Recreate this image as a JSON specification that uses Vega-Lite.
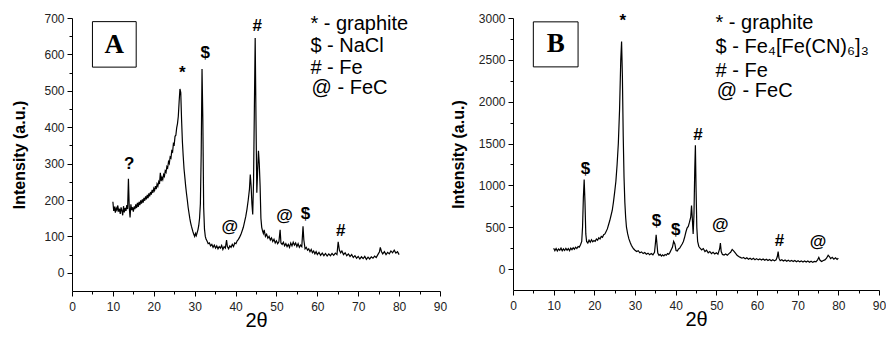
{
  "$schema": "https://vega.github.io/schema/vega-lite/v6.json",
  "padding": {"left": 11, "top": 12, "right": 0, "bottom": 0},
  "bounds": "flush",
  "spacing": 73,
  "background": "white",
  "config": {
    "view": {"stroke": null},
    "axis": {"grid": false, "domainColor": "#000", "tickColor": "#000", "labelColor": "#222", "labelFont": "Liberation Sans", "labelFontSize": 12, "titleFont": "Liberation Sans", "titleColor": "#000", "labelFlush": false, "labelOverlap": false, "labelPadding": 3, "tickSize": 5},
    "text": {"font": "Liberation Sans"}
  },
  "datasets": {
    "a": [
      {"x":10.0,"y":195},{"x":10.2,"y":170},{"x":10.4,"y":182},{"x":10.6,"y":165},{"x":10.8,"y":178},{"x":11.0,"y":172},{"x":11.2,"y":185},{"x":11.4,"y":168},{"x":11.6,"y":176},{"x":11.8,"y":162},
      {"x":12.0,"y":180},{"x":12.2,"y":171},{"x":12.4,"y":158},{"x":12.6,"y":183},{"x":12.8,"y":166},{"x":13.0,"y":178},{"x":13.2,"y":170},{"x":13.4,"y":186},{"x":13.6,"y":175},{"x":13.8,"y":258},
      {"x":14.0,"y":180},{"x":14.2,"y":152},{"x":14.4,"y":188},{"x":14.6,"y":172},{"x":14.8,"y":180},{"x":15.0,"y":168},{"x":15.2,"y":182},{"x":15.4,"y":175},{"x":15.6,"y":188},{"x":15.8,"y":178},
      {"x":16.0,"y":192},{"x":16.2,"y":181},{"x":16.4,"y":195},{"x":16.6,"y":186},{"x":16.8,"y":199},{"x":17.0,"y":190},{"x":17.2,"y":202},{"x":17.4,"y":193},{"x":17.6,"y":206},{"x":17.8,"y":198},
      {"x":18.0,"y":210},{"x":18.2,"y":202},{"x":18.4,"y":214},{"x":18.6,"y":205},{"x":18.8,"y":218},{"x":19.0,"y":210},{"x":19.2,"y":222},{"x":19.4,"y":215},{"x":19.6,"y":228},{"x":19.8,"y":220},
      {"x":20.0,"y":232},{"x":20.2,"y":226},{"x":20.4,"y":238},{"x":20.6,"y":230},{"x":20.8,"y":244},{"x":21.0,"y":238},{"x":21.2,"y":250},{"x":21.4,"y":244},{"x":21.6,"y":275},{"x":21.8,"y":252},
      {"x":22.0,"y":262},{"x":22.2,"y":256},{"x":22.4,"y":270},{"x":22.6,"y":265},{"x":22.8,"y":280},{"x":23.0,"y":276},{"x":23.2,"y":292},{"x":23.4,"y":288},{"x":23.6,"y":305},{"x":23.8,"y":300},
      {"x":24.0,"y":318},{"x":24.2,"y":315},{"x":24.4,"y":335},{"x":24.6,"y":332},{"x":24.8,"y":355},{"x":25.0,"y":352},{"x":25.2,"y":375},{"x":25.4,"y":378},{"x":25.6,"y":398},{"x":25.8,"y":410},
      {"x":26.0,"y":430},{"x":26.2,"y":470},{"x":26.4,"y":505},{"x":26.6,"y":495},{"x":26.8,"y":420},{"x":27.0,"y":360},{"x":27.2,"y":320},{"x":27.4,"y":285},{"x":27.6,"y":262},{"x":27.8,"y":238},
      {"x":28.0,"y":218},{"x":28.2,"y":200},{"x":28.4,"y":180},{"x":28.6,"y":165},{"x":28.8,"y":150},{"x":29.0,"y":138},{"x":29.2,"y":128},{"x":29.4,"y":120},{"x":29.6,"y":112},{"x":29.8,"y":105},
      {"x":30.0,"y":100},{"x":30.2,"y":108},{"x":30.4,"y":102},{"x":30.6,"y":110},{"x":30.8,"y":118},{"x":31.0,"y":130},{"x":31.2,"y":150},{"x":31.4,"y":190},{"x":31.6,"y":330},{"x":31.8,"y":560},
      {"x":32.0,"y":420},{"x":32.2,"y":180},{"x":32.4,"y":120},{"x":32.6,"y":100},{"x":32.8,"y":92},{"x":33.0,"y":88},{"x":33.3,"y":80},{"x":33.6,"y":82},{"x":33.9,"y":74},{"x":34.2,"y":78},
      {"x":34.5,"y":70},{"x":34.8,"y":76},{"x":35.1,"y":68},{"x":35.4,"y":74},{"x":35.7,"y":66},{"x":36.0,"y":72},{"x":36.3,"y":68},{"x":36.6,"y":75},{"x":36.9,"y":64},{"x":37.2,"y":72},
      {"x":37.5,"y":68},{"x":37.8,"y":90},{"x":38.0,"y":72},{"x":38.3,"y":66},{"x":38.6,"y":74},{"x":38.9,"y":70},{"x":39.2,"y":78},{"x":39.5,"y":72},{"x":39.8,"y":82},{"x":40.1,"y":80},
      {"x":40.4,"y":88},{"x":40.7,"y":92},{"x":41.0,"y":98},{"x":41.3,"y":105},{"x":41.6,"y":115},{"x":41.9,"y":125},{"x":42.2,"y":140},{"x":42.5,"y":155},{"x":42.8,"y":175},{"x":43.1,"y":200},
      {"x":43.4,"y":230},{"x":43.6,"y":270},{"x":43.8,"y":240},{"x":44.0,"y":190},{"x":44.2,"y":160},{"x":44.4,"y":250},{"x":44.6,"y":450},{"x":44.8,"y":645},{"x":45.0,"y":420},{"x":45.2,"y":220},
      {"x":45.4,"y":280},{"x":45.6,"y":335},{"x":45.8,"y":300},{"x":46.0,"y":240},{"x":46.2,"y":150},{"x":46.4,"y":125},{"x":46.6,"y":115},{"x":46.8,"y":108},{"x":47.0,"y":118},{"x":47.3,"y":100},
      {"x":47.6,"y":106},{"x":47.9,"y":95},{"x":48.2,"y":100},{"x":48.5,"y":90},{"x":48.8,"y":96},{"x":49.1,"y":86},{"x":49.4,"y":92},{"x":49.7,"y":82},{"x":50.0,"y":88},{"x":50.3,"y":80},
      {"x":50.6,"y":85},{"x":50.9,"y":118},{"x":51.1,"y":82},{"x":51.4,"y":78},{"x":51.7,"y":84},{"x":52.0,"y":74},{"x":52.3,"y":80},{"x":52.6,"y":72},{"x":52.9,"y":78},{"x":53.2,"y":70},
      {"x":53.5,"y":82},{"x":53.8,"y":74},{"x":54.1,"y":84},{"x":54.4,"y":76},{"x":54.7,"y":82},{"x":55.0,"y":72},{"x":55.3,"y":80},{"x":55.6,"y":70},{"x":55.9,"y":76},{"x":56.2,"y":72},
      {"x":56.5,"y":128},{"x":56.7,"y":90},{"x":57.0,"y":66},{"x":57.3,"y":70},{"x":57.6,"y":62},{"x":57.9,"y":66},{"x":58.2,"y":58},{"x":58.5,"y":64},{"x":58.8,"y":55},{"x":59.1,"y":60},
      {"x":59.4,"y":52},{"x":59.7,"y":58},{"x":60.0,"y":50},{"x":60.4,"y":56},{"x":60.8,"y":48},{"x":61.2,"y":54},{"x":61.6,"y":47},{"x":62.0,"y":53},{"x":62.4,"y":46},{"x":62.8,"y":52},
      {"x":63.2,"y":47},{"x":63.6,"y":53},{"x":64.0,"y":48},{"x":64.4,"y":54},{"x":64.8,"y":50},{"x":65.1,"y":85},{"x":65.4,"y":62},{"x":65.7,"y":55},{"x":66.0,"y":60},{"x":66.4,"y":50},
      {"x":66.8,"y":55},{"x":67.2,"y":47},{"x":67.6,"y":52},{"x":68.0,"y":45},{"x":68.4,"y":50},{"x":68.8,"y":42},{"x":69.2,"y":47},{"x":69.6,"y":40},{"x":70.0,"y":45},{"x":70.4,"y":38},
      {"x":70.8,"y":44},{"x":71.2,"y":39},{"x":71.6,"y":45},{"x":72.0,"y":37},{"x":72.4,"y":43},{"x":72.8,"y":38},{"x":73.2,"y":44},{"x":73.6,"y":40},{"x":74.0,"y":46},{"x":74.4,"y":42},
      {"x":74.8,"y":50},{"x":75.2,"y":58},{"x":75.4,"y":70},{"x":75.7,"y":58},{"x":76.0,"y":52},{"x":76.4,"y":58},{"x":76.8,"y":50},{"x":77.2,"y":56},{"x":77.6,"y":52},{"x":78.0,"y":60},
      {"x":78.4,"y":55},{"x":78.8,"y":62},{"x":79.2,"y":54},{"x":79.6,"y":58},{"x":80.0,"y":50}
    ],
    "b": [
      {"x":10.0,"y":250},{"x":10.3,"y":220},{"x":10.6,"y":245},{"x":10.9,"y":215},{"x":11.2,"y":240},{"x":11.5,"y":225},{"x":11.8,"y":250},{"x":12.1,"y":218},{"x":12.4,"y":242},{"x":12.7,"y":222},
      {"x":13.0,"y":248},{"x":13.3,"y":226},{"x":13.6,"y":245},{"x":13.9,"y":220},{"x":14.2,"y":250},{"x":14.5,"y":232},{"x":14.8,"y":255},{"x":15.1,"y":238},{"x":15.4,"y":262},{"x":15.7,"y":245},
      {"x":16.0,"y":270},{"x":16.3,"y":262},{"x":16.6,"y":290},{"x":16.9,"y":330},{"x":17.1,"y":500},{"x":17.3,"y":850},{"x":17.5,"y":1070},{"x":17.7,"y":800},{"x":17.9,"y":420},{"x":18.1,"y":330},
      {"x":18.4,"y":310},{"x":18.7,"y":345},{"x":19.0,"y":320},{"x":19.3,"y":350},{"x":19.6,"y":325},{"x":19.9,"y":340},{"x":20.2,"y":330},{"x":20.5,"y":360},{"x":20.8,"y":345},{"x":21.1,"y":375},
      {"x":21.4,"y":360},{"x":21.7,"y":390},{"x":22.0,"y":380},{"x":22.3,"y":410},{"x":22.6,"y":420},{"x":22.9,"y":450},{"x":23.2,"y":480},{"x":23.5,"y":530},{"x":23.8,"y":580},{"x":24.1,"y":640},
      {"x":24.4,"y":700},{"x":24.7,"y":800},{"x":25.0,"y":920},{"x":25.3,"y":1050},{"x":25.6,"y":1250},{"x":25.9,"y":1500},{"x":26.2,"y":1900},{"x":26.5,"y":2500},{"x":26.7,"y":2720},{"x":26.9,"y":2300},
      {"x":27.1,"y":1600},{"x":27.3,"y":1100},{"x":27.5,"y":800},{"x":27.7,"y":620},{"x":27.9,"y":500},{"x":28.2,"y":420},{"x":28.5,"y":360},{"x":28.8,"y":320},{"x":29.1,"y":285},{"x":29.4,"y":260},
      {"x":29.7,"y":240},{"x":30.0,"y":225},{"x":30.4,"y":210},{"x":30.8,"y":220},{"x":31.2,"y":195},{"x":31.6,"y":205},{"x":32.0,"y":185},{"x":32.4,"y":198},{"x":32.8,"y":178},{"x":33.2,"y":190},
      {"x":33.6,"y":172},{"x":34.0,"y":185},{"x":34.4,"y":170},{"x":34.8,"y":200},{"x":35.0,"y":300},{"x":35.2,"y":410},{"x":35.4,"y":300},{"x":35.6,"y":190},{"x":35.9,"y":165},{"x":36.2,"y":175},
      {"x":36.5,"y":155},{"x":36.8,"y":170},{"x":37.1,"y":158},{"x":37.4,"y":175},{"x":37.7,"y":165},{"x":38.0,"y":185},{"x":38.3,"y":178},{"x":38.6,"y":200},{"x":38.9,"y":230},{"x":39.2,"y":260},
      {"x":39.5,"y":330},{"x":39.8,"y":300},{"x":40.1,"y":220},{"x":40.4,"y":215},{"x":40.7,"y":240},{"x":41.0,"y":250},{"x":41.3,"y":275},{"x":41.6,"y":300},{"x":41.9,"y":330},{"x":42.2,"y":380},
      {"x":42.5,"y":440},{"x":42.8,"y":490},{"x":43.1,"y":510},{"x":43.4,"y":560},{"x":43.7,"y":620},{"x":43.9,"y":760},{"x":44.1,"y":600},{"x":44.3,"y":420},{"x":44.5,"y":650},{"x":44.7,"y":1200},
      {"x":44.85,"y":1480},{"x":45.0,"y":1000},{"x":45.2,"y":500},{"x":45.4,"y":330},{"x":45.7,"y":270},{"x":46.0,"y":250},{"x":46.4,"y":230},{"x":46.8,"y":245},{"x":47.2,"y":210},{"x":47.6,"y":225},
      {"x":48.0,"y":195},{"x":48.4,"y":210},{"x":48.8,"y":185},{"x":49.2,"y":200},{"x":49.6,"y":180},{"x":50.0,"y":195},{"x":50.4,"y":178},{"x":50.8,"y":240},{"x":51.0,"y":310},{"x":51.2,"y":210},
      {"x":51.5,"y":175},{"x":51.9,"y":168},{"x":52.3,"y":180},{"x":52.7,"y":165},{"x":53.1,"y":185},{"x":53.5,"y":200},{"x":53.9,"y":235},{"x":54.3,"y":215},{"x":54.7,"y":190},{"x":55.1,"y":165},
      {"x":55.5,"y":150},{"x":55.9,"y":140},{"x":56.3,"y":130},{"x":56.7,"y":138},{"x":57.1,"y":122},{"x":57.5,"y":135},{"x":57.9,"y":118},{"x":58.3,"y":130},{"x":58.7,"y":115},{"x":59.1,"y":128},
      {"x":59.5,"y":112},{"x":59.9,"y":125},{"x":60.3,"y":110},{"x":60.7,"y":122},{"x":61.1,"y":108},{"x":61.5,"y":120},{"x":61.9,"y":105},{"x":62.3,"y":118},{"x":62.7,"y":102},{"x":63.1,"y":115},
      {"x":63.5,"y":100},{"x":63.9,"y":112},{"x":64.3,"y":98},{"x":64.7,"y":110},{"x":65.0,"y":150},{"x":65.2,"y":210},{"x":65.4,"y":130},{"x":65.7,"y":100},{"x":66.1,"y":112},{"x":66.5,"y":96},
      {"x":66.9,"y":108},{"x":67.3,"y":94},{"x":67.7,"y":106},{"x":68.1,"y":92},{"x":68.5,"y":104},{"x":68.9,"y":90},{"x":69.3,"y":102},{"x":69.7,"y":88},{"x":70.1,"y":100},{"x":70.5,"y":86},
      {"x":70.9,"y":98},{"x":71.3,"y":85},{"x":71.7,"y":97},{"x":72.1,"y":84},{"x":72.5,"y":96},{"x":72.9,"y":82},{"x":73.3,"y":94},{"x":73.7,"y":80},{"x":74.1,"y":92},{"x":74.5,"y":86},
      {"x":74.9,"y":110},{"x":75.2,"y":140},{"x":75.5,"y":105},{"x":75.9,"y":90},{"x":76.3,"y":102},{"x":76.7,"y":110},{"x":77.1,"y":130},{"x":77.5,"y":165},{"x":77.8,"y":150},{"x":78.1,"y":125},
      {"x":78.5,"y":140},{"x":78.9,"y":118},{"x":79.3,"y":135},{"x":79.7,"y":115},{"x":80.0,"y":130}
    ],
    "annA": [
      {"x":14,"y":300,"t":"?"},{"x":27,"y":550,"t":"*"},{"x":32.6,"y":605,"t":"$"},{"x":45.3,"y":678,"t":"#"},
      {"x":38.6,"y":127,"t":"@"},{"x":52,"y":157,"t":"@"},{"x":57.1,"y":162,"t":"$"},{"x":65.7,"y":116,"t":"#"}
    ],
    "annB": [
      {"x":17.8,"y":1200,"t":"$"},{"x":27,"y":2960,"t":"*"},{"x":45.5,"y":1606,"t":"#"},{"x":35.3,"y":570,"t":"$"},
      {"x":40,"y":462,"t":"$"},{"x":51,"y":530,"t":"@"},{"x":65.5,"y":335,"t":"#"},{"x":75,"y":323,"t":"@"}
    ],
    "legA": [
      {"x":58.3,"y":684,"t":"* - graphite"},{"x":58.3,"y":622,"t":"$ - NaCl"},{"x":58.3,"y":564,"t":"# - Fe"},{"x":58.6,"y":509,"t":"@ - FeC"}
    ],
    "legB": [
      {"x":49.8,"y":2935,"t":"* - graphite"},{"x":49.8,"y":2650,"t":"$ - Fe₄[Fe(CN)₆]₃"},{"x":49.8,"y":2370,"t":"# - Fe"},{"x":50.1,"y":2130,"t":"@ - FeC"}
    ],
    "boxA": [{"x1":5.0,"x2":15.7,"y1":565,"y2":690,"xc":10.35,"yc":627,"t":"A"}],
    "boxB": [{"x1":5.0,"x2":16.0,"y1":2416,"y2":2954,"xc":10.5,"yc":2685,"t":"B"}]
  },
  "hconcat": [
    {
      "width": 368,
      "height": 273,
      "resolve": {"axis": {"x": "independent", "y": "independent"}},
      "layer": [
        {
          "data": {"name": "a"},
          "mark": {"type": "line", "color": "#000", "strokeWidth": 1.2},
          "encoding": {
            "x": {"field": "x", "type": "quantitative", "scale": {"domain": [0, 90], "nice": false},
              "axis": {"values": [0,10,20,30,40,50,60,70,80,90], "labelPadding": 5, "title": "2θ", "titleFontSize": 20, "titleFontWeight": "normal", "titlePadding": -2}},
            "y": {"field": "y", "type": "quantitative", "scale": {"domain": [-50, 700], "nice": false, "zero": false},
              "axis": {"values": [0,100,200,300,400,500,600,700], "title": "Intensity (a.u.)", "titleFontSize": 16, "titleFontWeight": "bold", "titlePadding": 16}}
          }
        },
        {
          "data": {"name": "annA"},
          "mark": {"type": "text", "fontSize": 17, "fontWeight": "bold", "align": "center", "baseline": "middle", "color": "#000"},
          "encoding": {
            "x": {"field": "x", "type": "quantitative", "axis": {"orient": "bottom", "values": [5,15,25,35,45,55,65,75,85], "labels": false, "domain": false, "tickSize": 3, "title": null}},
            "y": {"field": "y", "type": "quantitative", "axis": {"orient": "left", "values": [50,150,250,350,450,550,650], "labels": false, "domain": false, "tickSize": 3, "title": null}},
            "text": {"field": "t"}
          }
        },
        {
          "data": {"name": "legA"},
          "mark": {"type": "text", "fontSize": 20, "align": "left", "baseline": "middle", "color": "#000"},
          "encoding": {"x": {"field": "x", "type": "quantitative", "axis": null}, "y": {"field": "y", "type": "quantitative", "axis": null}, "text": {"field": "t"}}
        },
        {
          "data": {"name": "boxA"},
          "mark": {"type": "rect", "fill": "white", "stroke": "#000", "strokeWidth": 1},
          "encoding": {"x": {"field": "x1", "type": "quantitative", "axis": null}, "x2": {"field": "x2"}, "y": {"field": "y1", "type": "quantitative", "axis": null}, "y2": {"field": "y2"}}
        },
        {
          "data": {"name": "boxA"},
          "mark": {"type": "text", "font": "Liberation Serif", "fontSize": 27, "fontWeight": "bold", "align": "center", "baseline": "middle", "color": "#000"},
          "encoding": {"x": {"field": "xc", "type": "quantitative", "axis": null}, "y": {"field": "yc", "type": "quantitative", "axis": null}, "text": {"field": "t"}}
        }
      ]
    },
    {
      "width": 366,
      "height": 272,
      "resolve": {"axis": {"x": "independent", "y": "independent"}},
      "layer": [
        {
          "data": {"name": "b"},
          "mark": {"type": "line", "color": "#000", "strokeWidth": 1.2},
          "encoding": {
            "x": {"field": "x", "type": "quantitative", "scale": {"domain": [0, 90], "nice": false},
              "axis": {"values": [0,10,20,30,40,50,60,70,80,90], "labelPadding": 5, "title": "2θ", "titleFontSize": 20, "titleFontWeight": "normal", "titlePadding": -2}},
            "y": {"field": "y", "type": "quantitative", "scale": {"domain": [-250, 3000], "nice": false, "zero": false},
              "axis": {"values": [0,500,1000,1500,2000,2500,3000], "format": "d", "title": "Intensity (a.u.)", "titleFontSize": 16, "titleFontWeight": "bold", "titlePadding": 12}}
          }
        },
        {
          "data": {"name": "annB"},
          "mark": {"type": "text", "fontSize": 17, "fontWeight": "bold", "align": "center", "baseline": "middle", "color": "#000"},
          "encoding": {
            "x": {"field": "x", "type": "quantitative", "axis": {"orient": "bottom", "values": [5,15,25,35,45,55,65,75,85], "labels": false, "domain": false, "tickSize": 3, "title": null}},
            "y": {"field": "y", "type": "quantitative", "axis": {"orient": "left", "values": [250,750,1250,1750,2250,2750], "labels": false, "domain": false, "tickSize": 3, "title": null}},
            "text": {"field": "t"}
          }
        },
        {
          "data": {"name": "legB"},
          "mark": {"type": "text", "fontSize": 20, "align": "left", "baseline": "middle", "color": "#000"},
          "encoding": {"x": {"field": "x", "type": "quantitative", "axis": null}, "y": {"field": "y", "type": "quantitative", "axis": null}, "text": {"field": "t"}}
        },
        {
          "data": {"name": "boxB"},
          "mark": {"type": "rect", "fill": "white", "stroke": "#000", "strokeWidth": 1},
          "encoding": {"x": {"field": "x1", "type": "quantitative", "axis": null}, "x2": {"field": "x2"}, "y": {"field": "y1", "type": "quantitative", "axis": null}, "y2": {"field": "y2"}}
        },
        {
          "data": {"name": "boxB"},
          "mark": {"type": "text", "font": "Liberation Serif", "fontSize": 27, "fontWeight": "bold", "align": "center", "baseline": "middle", "color": "#000"},
          "encoding": {"x": {"field": "xc", "type": "quantitative", "axis": null}, "y": {"field": "yc", "type": "quantitative", "axis": null}, "text": {"field": "t"}}
        }
      ]
    }
  ]
}
